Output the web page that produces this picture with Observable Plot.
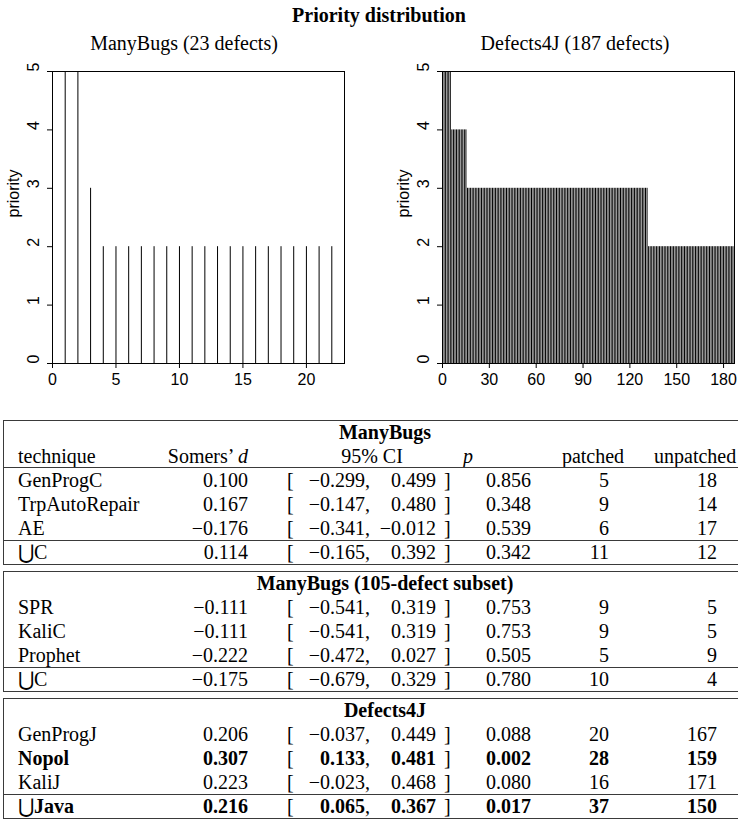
<!DOCTYPE html>
<html><head><meta charset="utf-8">
<script src="https://cdn.jsdelivr.net/npm/d3@7"></script>
<script src="https://cdn.jsdelivr.net/npm/@observablehq/plot@0.6"></script>
<style>
html,body{margin:0;padding:0;background:#fff;}
#root{position:relative;width:738px;height:820px;overflow:hidden;font-family:"Liberation Serif","Times New Roman",serif;color:#000;}
.abs{position:absolute;white-space:nowrap;}
.hl{position:absolute;height:0;border-top:1px solid #3a3a3a;}
.vl{position:absolute;width:0;border-left:1px solid #3a3a3a;}
.u{font-family:"DejaVu Serif",serif;font-weight:normal;}
</style></head><body><div id="root"></div>
<script>
// ---- chart data ----
const manyBugsLevels = [5, 3, 2];
const manyBugsCounts = [2, 1, 20];
const d4jLevels = [5, 4, 3, 2, 1];
const d4jCounts = [5, 10, 116, 55, 1];
const yTicks = [0, 1, 2, 3, 4, 5];
const manyBugsXTicks = [0, 5, 10, 15, 20];
const d4jXTicks = [0, 30, 60, 90, 120, 150, 180];
const panelTitles = ["ManyBugs (23 defects)", "Defects4J (187 defects)"];
const mainTitle = "Priority distribution";

// ---- table data ----
const groupTitles = ["ManyBugs", "ManyBugs (105-defect subset)", "Defects4J"];
const techniques = ["GenProgC", "TrpAutoRepair", "AE", "C", "SPR", "KaliC", "Prophet", "C", "GenProgJ", "Nopol", "KaliJ", "Java"];
const unionRow = [false, false, false, true, false, false, false, true, false, false, false, true];
const rowGroup = [0, 0, 0, 0, 1, 1, 1, 1, 2, 2, 2, 2];
const somersD = [0.100, 0.167, -0.176, 0.114, -0.111, -0.111, -0.222, -0.175, 0.206, 0.307, 0.223, 0.216];
const ciLow = [-0.299, -0.147, -0.341, -0.165, -0.541, -0.541, -0.472, -0.679, -0.037, 0.133, -0.023, 0.065];
const ciHigh = [0.499, 0.480, -0.012, 0.392, 0.319, 0.319, 0.027, 0.329, 0.449, 0.481, 0.468, 0.367];
const pValues = [0.856, 0.348, 0.539, 0.342, 0.753, 0.753, 0.505, 0.780, 0.088, 0.002, 0.080, 0.017];
const patched = [5, 9, 6, 11, 9, 9, 5, 10, 20, 28, 16, 37];
const unpatched = [18, 14, 17, 12, 5, 5, 9, 4, 167, 159, 171, 150];
const boldRow = [false, false, false, false, false, false, false, false, false, true, false, true];

const root = document.getElementById("root");
function div(cls, css, html) {
  const e = document.createElement("div");
  e.className = cls;
  Object.assign(e.style, css);
  if (html !== undefined) e.innerHTML = html;
  root.appendChild(e);
  return e;
}

function expand(levels, counts) {
  const out = [];
  let i = 1;
  levels.forEach((lv, k) => { for (let c = 0; c < counts[k]; c++) out.push({defect: i++, priority: lv}); });
  return out;
}

function panel(levels, counts, xTicks, mLeft, mRight) {
  const data = expand(levels, counts);
  const n = data.length;
  return Plot.plot({
    width: 369, height: 400,
    marginLeft: mLeft, marginRight: mRight, marginTop: 71, marginBottom: 37,
    x: {domain: [0, n]},
    y: {domain: [0, 5]},
    style: {fontFamily: "'Liberation Sans', Arial, sans-serif", fontSize: "16px", background: "transparent", overflow: "visible", color: "#000"},
    marks: [
      Plot.ruleX(data, {x: "defect", y1: 0, y2: "priority", stroke: "#000", strokeWidth: 1}),
      Plot.frame({stroke: "#000", strokeWidth: 1}),
      Plot.axisX({ticks: xTicks, tickSize: 5, tickPadding: 5, label: null, fontSize: 16}),
      Plot.axisY({ticks: yTicks, tickSize: 5, tickFormat: () => "", label: null}),
      Plot.text(yTicks, {y: d => d, text: d => String(d), frameAnchor: "left", rotate: -90, dx: -19, fontSize: 16}),
      Plot.text(["priority"], {frameAnchor: "left", rotate: -90, dx: -39, fontSize: 16})
    ]
  });
}

const left = panel(manyBugsLevels, manyBugsCounts, manyBugsXTicks, 52, 25);
Object.assign(left.style, {position: "absolute", left: "0px", top: "0px"});
root.appendChild(left);
const right = panel(d4jLevels, d4jCounts, d4jXTicks, 73, 4);
Object.assign(right.style, {position: "absolute", left: "369px", top: "0px"});
root.appendChild(right);

// titles
div("abs", {left: "179px", width: "400px", textAlign: "center", top: "3px", lineHeight: "24px", fontSize: "20px", fontWeight: "bold"}, mainTitle);
div("abs", {left: (184 - 200) + "px", width: "400px", textAlign: "center", top: "31px", lineHeight: "24px", fontSize: "20px"}, panelTitles[0]);
div("abs", {left: (575 - 200) + "px", width: "400px", textAlign: "center", top: "31px", lineHeight: "24px", fontSize: "20px"}, panelTitles[1]);

// ---- table ----
const fmt = d3.format(".3f");
const H = 24, GAP = 7, FS = "20px";
const X = {tech: 18, dR: 248, ciOpen: 287, lowR: 365, highR: 436, ciClose: 444, pR: 531, patR: 609, unpR: 717, headCenter: 385};
function cellR(xr, top, html, bold) {
  div("abs", {left: (xr - 200) + "px", width: "200px", textAlign: "right", top: top + "px", lineHeight: H + "px", fontSize: FS, fontWeight: bold ? "bold" : "normal"}, html);
}
function cellL(xl, top, html, bold) {
  div("abs", {left: xl + "px", top: top + "px", lineHeight: H + "px", fontSize: FS, fontWeight: bold ? "bold" : "normal"}, html);
}
function cellC(xc, top, html, bold) {
  div("abs", {left: (xc - 250) + "px", width: "500px", textAlign: "center", top: top + "px", lineHeight: H + "px", fontSize: FS, fontWeight: bold ? "bold" : "normal"}, html);
}
function hline(y) { div("hl", {left: "3px", width: "800px", top: y + "px"}); }
function vline(y0, y1) { div("vl", {left: "3px", top: y0 + "px", height: (y1 - y0) + "px"}); }

let y = 420;
for (let g = 0; g < groupTitles.length; g++) {
  const top = y;
  hline(y);
  cellC(X.headCenter, y, groupTitles[g], true);
  y += H;
  if (g === 0) {
    cellL(X.tech, y, "technique");
    cellR(X.dR, y, "Somers’ <i>d</i>");
    cellC(372, y, "95% CI");
    cellC(468, y, "<i>p</i>");
    cellC(593, y, "patched");
    cellL(654, y, "unpatched");
    y += H;
    hline(y - 1);
  }
  const rows = techniques.map((t, i) => i).filter(i => rowGroup[i] === g);
  rows.forEach(i => {
    if (unionRow[i]) hline(y);
    const b = boldRow[i];
    const name = unionRow[i] ? '<span class="u">⋃</span>' + techniques[i] : techniques[i];
    cellL(X.tech, y, name, b);
    cellR(X.dR, y, fmt(somersD[i]), b);
    cellL(X.ciOpen, y, "[");
    cellR(X.lowR, y, fmt(ciLow[i]), b);
    cellL(X.lowR, y, ",");
    cellR(X.highR, y, fmt(ciHigh[i]), b);
    cellL(X.ciClose, y, "]");
    cellR(X.pR, y, fmt(pValues[i]), b);
    cellR(X.patR, y, String(patched[i]), b);
    cellR(X.unpR, y, String(unpatched[i]), b);
    y += H;
  });
  hline(y);
  vline(top, y);
  y += GAP;
}
</script></body></html>
